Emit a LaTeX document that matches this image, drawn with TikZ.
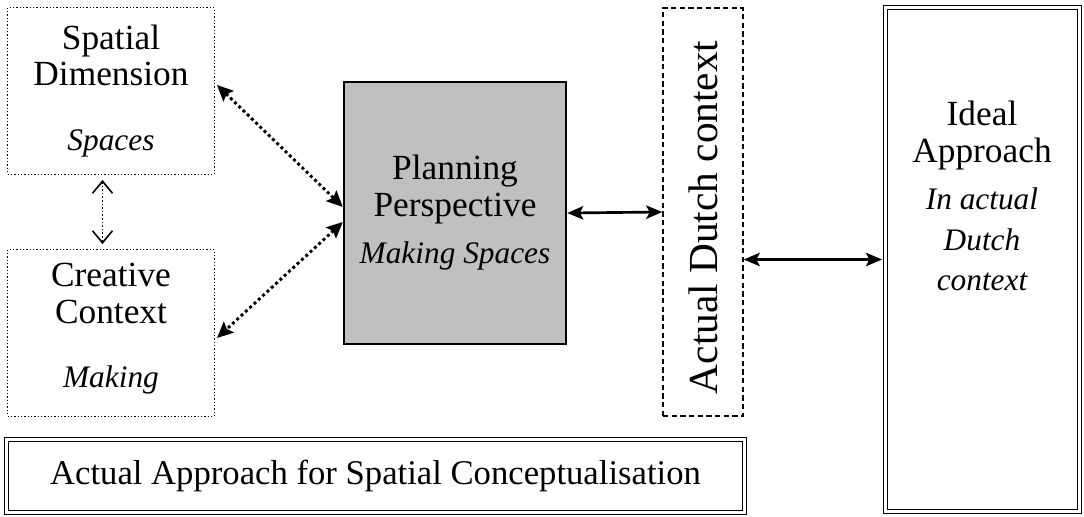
\documentclass[tikz,border=0pt]{standalone}
\usepackage{fontspec}
\setmainfont{Liberation Serif}
\usetikzlibrary{arrows.meta}
\definecolor{boxgray}{RGB}{192,192,192}
\newcommand{\subline}[1]{{\fontsize{23.5}{27.5}\selectfont\itshape #1}}
\begin{document}
\begin{tikzpicture}[x=0.75pt,y=-0.75pt,
  txt/.style={font=\fontsize{26.5}{27.5}\selectfont, align=center, inner sep=0pt},
  dotbox/.style={draw, line width=1pt, dash pattern=on 1pt off 1.5pt,
    minimum width=155pt, minimum height=125pt, txt},
  graybox/.style={draw, fill=boxgray, line width=1.8pt,
    minimum width=166.5pt, minimum height=196.5pt, txt},
  dashbox/.style={draw, line width=1.1pt, dash pattern=on 4pt off 2.5pt,
    minimum width=60pt, minimum height=306pt},
  dblbox/.style={draw, double, double distance=2pt, line width=1.2pt, txt},
  dotarrow/.style={line width=2.2pt, dash pattern=on 2.2pt off 2.2pt,
    {Stealth[length=12pt,width=11pt,inset=2pt]}-{Stealth[length=12pt,width=11pt,inset=2pt]}},
  solidarrow/.style={line width=2pt,
    {Stealth[length=12pt,width=10pt,inset=2.5pt]}-{Stealth[length=12pt,width=10pt,inset=2.5pt]}},
  thinarrow/.style={line width=1.2pt, dash pattern=on 1.2pt off 1.5pt,
    {Straight Barb[length=9pt,width=15pt]}-{Straight Barb[length=9pt,width=15pt]}}
]
\useasboundingbox (0,0) rectangle (1084,517);

\node[dotbox] (sd) at (111,91) {Spatial\\Dimension\\[21pt]\subline{Spaces}};
\node[dotbox] (cc) at (111,333) {Creative\\Context\\[21pt]\subline{Making}\\[-16pt]\mbox{}};
\node[graybox] (pp) at (455,213) {Planning\\Perspective\\[8pt]\subline{Making Spaces}};
\node[dashbox] (adc) at (703,212) {};
\node[txt, font=\fontsize{31}{32}\selectfont, rotate=90] (adct) at ([yshift=-4]adc.center) {Actual Dutch context};
\node[dblbox, minimum width=145.5pt, minimum height=378pt] (ia) at (982.5,259.5) {};
\node[txt] (iat) at (982,196) {Ideal\\Approach\\[8pt]\subline{In actual}\\[3pt]\subline{Dutch}\\[3pt]\subline{context}};
\node[dblbox, font=\fontsize{26}{27.5}\selectfont, minimum width=553.5pt, minimum height=54.75pt] (aa) at (375.5,476) {Actual Approach for Spatial Conceptualisation};

\draw[thinarrow] ([shift={(-8.5,5)}]sd.south) -- ([shift={(-8.5,-5)}]cc.north);
\draw[dotarrow] ([shift={(2,-6)}]sd.east) -- ([shift={(0,-6)}]pp.west);
\draw[dotarrow] ([shift={(0,9)}]pp.west) -- ([shift={(2,5)}]cc.east);
\draw[solidarrow] (pp.east) -- (adc.west);
\draw[solidarrow] (adc.east |- ia.west) -- ([xshift=-2pt]ia.west);
\end{tikzpicture}
\end{document}
